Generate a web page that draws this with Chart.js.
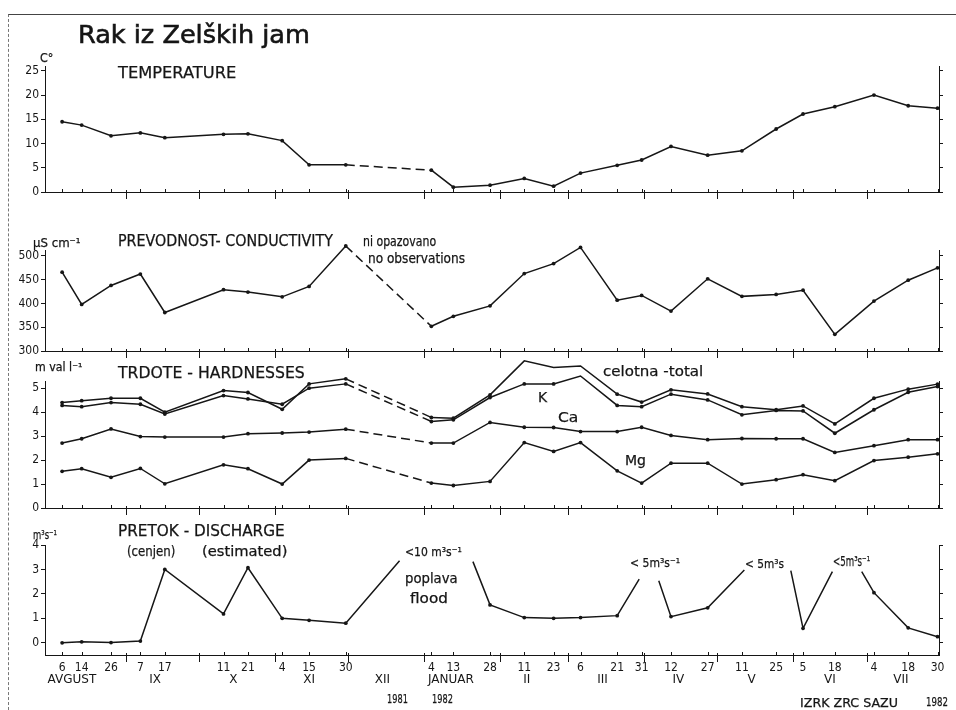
<!DOCTYPE html>
<html>
<head>
<meta charset="utf-8">
<script src="https://cdn.jsdelivr.net/npm/chart.js@4.4.1/dist/chart.umd.min.js"></script>
<style>
html, body { margin: 0; padding: 0; background: #fff; }
#page { position: relative; width: 956px; height: 710px; overflow: hidden; font-family: "DejaVu Sans", sans-serif; color: #151515; }
#page canvas { position: absolute; left: 0; top: 0; }
#frame { position: absolute; left: 8px; top: 14px; width: 948px; height: 700px; border-top: 1px solid #444; border-left: 1px dashed #777; }
.t { position: absolute; white-space: nowrap; line-height: 1; transform-origin: 0 0; -webkit-text-stroke: 0.25px #151515; }
.t.big { -webkit-text-stroke: 0.6px #151515; }
</style>
</head>
<body>
<div id="page">
  <div id="frame"></div>
  <canvas id="cTemp" width="956" height="710"></canvas>
  <canvas id="cCond" width="956" height="710"></canvas>
  <canvas id="cHard" width="956" height="710"></canvas>
  <canvas id="cDisc" width="956" height="710"></canvas>
</div>
<script>
// sampling dates (1981-82)
const dates = ['1981-08-06','1981-08-14','1981-08-26','1981-09-07','1981-09-17','1981-10-11','1981-10-21',
  '1981-11-04','1981-11-15','1981-11-30','1982-01-04','1982-01-13','1982-01-28','1982-02-11','1982-02-23',
  '1982-03-06','1982-03-21','1982-03-31','1982-04-12','1982-04-27','1982-05-11','1982-05-25','1982-06-05',
  '1982-06-18','1982-07-04','1982-07-18','1982-07-30'];

const temperature = [14.5, 13.8, 11.6, 12.2, 11.2, 11.9, 12.0, 10.6, 5.6, 5.6, 4.5, 1.0, 1.4, 2.8, 1.2,
  3.9, 5.5, 6.6, 9.4, 7.6, 8.5, 13.0, 16.1, 17.6, 20.0, 17.8, 17.3];

const conductivity = [466, 398, 438, 462, 381, 429, 424, 414, 436, 521, 352, 373, 395, 463, 484,
  518, 407, 417, 384, 452, 415, 419, 428, 335, 405, 449, 475];

// hardnesses, mval/l
const hardTotal = [4.40, 4.48, 4.58, 4.58, 4.00, 4.90, 4.82, 4.12, 5.18, 5.39, 3.78, 3.75, 4.72, 6.14, 5.86,
  5.93, 4.75, 4.42, 4.93, 4.76, 4.23, 4.10, 4.26, 3.51, 4.58, 4.96, 5.17];
const hardK = [4.28, 4.23, 4.40, 4.33, 3.92, 4.69, 4.55, 4.33, 5.00, 5.18, 3.61, 3.68, 4.61, 5.18, 5.18,
  5.51, 4.28, 4.23, 4.75, 4.51, 3.89, 4.07, 4.05, 3.12, 4.10, 4.83, 5.07];
const hardCa = [2.71, 2.89, 3.30, 2.98, 2.96, 2.96, 3.10, 3.13, 3.17, 3.29, 2.71, 2.71, 3.57, 3.37, 3.36,
  3.19, 3.19, 3.37, 3.03, 2.85, 2.90, 2.89, 2.89, 2.32, 2.60, 2.85, 2.85];
const hardMg = [1.53, 1.64, 1.28, 1.65, 1.01, 1.80, 1.64, 1.00, 2.00, 2.07, 1.04, 0.94, 1.11, 2.73, 2.36,
  2.73, 1.55, 1.04, 1.87, 1.87, 1.00, 1.18, 1.39, 1.14, 1.98, 2.12, 2.26];

// discharge: off-scale peaks are cut (null = gap), cut ends have no marker
const discDates = ['1981-08-06','1981-08-14','1981-08-26','1981-09-07','1981-09-17','1981-10-11','1981-10-21',
  '1981-11-04','1981-11-15','1981-11-30','1981-12-22','1982-01-04','1982-01-21','1982-01-28','1982-02-11',
  '1982-02-23','1982-03-06','1982-03-21','1982-03-30','1982-04-03','1982-04-07','1982-04-12','1982-04-27',
  '1982-05-12','1982-05-25','1982-05-31','1982-06-05','1982-06-17','1982-06-23','1982-06-29','1982-07-04',
  '1982-07-18','1982-07-30'];
const discValues = [0.0, 0.04, 0.01, 0.07, 3.0, 1.18, 3.07, 1.0, 0.92, 0.8, 3.36, null, 3.32, 1.55, 1.03,
  1.0, 1.03, 1.11, 2.6, null, 2.54, 1.07, 1.43, 2.98, null, 2.95, 0.59, 2.91, null, 2.91, 2.05, 0.61, 0.25];

const tempTicks = [0, 5, 10, 15, 20, 25];
const condTicks = [300, 350, 400, 450, 500];
const hardTicks = [0, 1, 2, 3, 4, 5];
const discTicks = [0, 1, 2, 3, 4];

const monthStarts = ['1981-09-01','1981-10-01','1981-11-01','1981-12-01','1982-01-01','1982-02-01',
  '1982-03-01','1982-04-01','1982-05-01','1982-06-01','1982-07-01'];
const monthNames = ['AVGUST','IX','X','XI','XII','JANUAR','II','III','IV','V','VI','VII'];
const monthMid = ['1981-08-10','1981-09-13','1981-10-15','1981-11-15','1981-12-15','1982-01-12',
  '1982-02-12','1982-03-15','1982-04-15','1982-05-15','1982-06-16','1982-07-15'];

const T0 = Date.UTC(1981, 0, 1);
function dayNo(s) {
  const [y, m, d] = s.split('-').map(Number);
  return (Date.UTC(y, m - 1, d) - T0) / 864e5 + 1;
}
const X_MIN = 211, X_MAX = 576.6;
const INK = '#161616';
const TICK_FONT = { family: '"DejaVu Sans Condensed", "DejaVu Sans", sans-serif', size: 12 };

function series(ds, vals) {
  return ds.map((d, i) => ({ x: dayNo(d), y: vals[i] }));
}

const dayToDate = {};
dates.concat(discDates).forEach(d => { dayToDate[dayNo(d)] = d; });
function dateOf(c) {
  const p = c.raw;
  return p ? dayToDate[p.x] : '';
}

function lineSet(data) {
  return {
    data,
    borderColor: INK,
    borderWidth: 1.5,
    pointRadius: c => (dates.includes(dateOf(c)) ? 1.9 : 0),
    pointBackgroundColor: INK,
    pointBorderWidth: 0,
    tension: 0,
    clip: false,
    segment: {
      borderDash: c => (c.p1.parsed.x - c.p0.parsed.x > 30 ? [9, 5] : undefined)
    }
  };
}

// baseline with month and sampling ticks, month names under the last panel
const framePlugin = {
  id: 'frame',
  afterDatasetsDraw(chart, args, opts) {
    const { ctx, chartArea: a } = chart;
    const x = chart.scales.x;
    ctx.save();
    ctx.strokeStyle = INK;
    ctx.lineWidth = 1;
    ctx.beginPath();
    ctx.moveTo(a.left, a.bottom + 0.5);
    ctx.lineTo(a.right + 1, a.bottom + 0.5);
    monthStarts.forEach(d => {
      const px = Math.round(x.getPixelForValue(dayNo(d))) + 0.5;
      ctx.moveTo(px, a.bottom - 2);
      ctx.lineTo(px, a.bottom + 7);
    });
    dates.forEach(d => {
      const px = Math.round(x.getPixelForValue(dayNo(d))) + 0.5;
      ctx.moveTo(px, a.bottom - 3);
      ctx.lineTo(px, a.bottom);
    });
    ctx.stroke();
    if (opts.months) {
      ctx.fillStyle = INK;
      ctx.font = '12px "DejaVu Sans", sans-serif';
      ctx.textAlign = 'center';
      ctx.textBaseline = 'middle';
      monthNames.forEach((m, i) => {
        ctx.fillText(m, x.getPixelForValue(dayNo(monthMid[i])), a.bottom + 25);
      });
    }
    ctx.restore();
  }
};

function panel(id, top, bottom, yMin, yMax, ticks, datasets, withDays) {
  const yBase = {
    min: yMin,
    max: yMax,
    afterBuildTicks: s => { s.ticks = ticks.map(v => ({ value: v })); },
    border: { display: true, color: INK, width: 1 },
    grid: { drawOnChartArea: false, color: INK, tickLength: 4 }
  };
  const xAxis = {
    type: 'linear',
    min: X_MIN,
    max: X_MAX,
    display: withDays,
    grid: { display: false, drawTicks: false },
    border: { display: false }
  };
  if (withDays) {
    xAxis.afterBuildTicks = s => { s.ticks = dates.map(d => ({ value: dayNo(d) })); };
    xAxis.afterFit = s => { s.height = 20; };
    xAxis.ticks = {
      autoSkip: false, maxRotation: 0, padding: 6, color: INK, font: TICK_FONT,
      callback: v => String(parseInt(dayToDate[v].slice(8), 10))
    };
  }
  return new Chart(document.getElementById(id), {
    type: 'line',
    data: { datasets },
    options: {
      responsive: false,
      animation: false,
      events: [],
      layout: { padding: { top, bottom: 710 - bottom - (withDays ? 20 : 0), left: 0, right: 0 } },
      plugins: { legend: { display: false }, tooltip: { enabled: false }, frame: { months: withDays } },
      scales: {
        x: xAxis,
        y: Object.assign({}, yBase, {
          position: 'left',
          afterFit: s => { s.width = 45; },
          ticks: { color: INK, font: TICK_FONT, padding: 2 }
        }),
        y2: Object.assign({}, yBase, {
          position: 'right',
          afterFit: s => { s.width = 17; },
          ticks: { display: false }
        })
      }
    },
    plugins: [framePlugin]
  });
}

panel('cTemp', 66, 192, 0, 26, tempTicks, [lineSet(series(dates, temperature))], false);
panel('cCond', 250, 351, 300, 512.6, condTicks, [lineSet(series(dates, conductivity))], false);
panel('cHard', 381, 508, 0, 5.3, hardTicks, [
  lineSet(series(dates, hardTotal)),
  lineSet(series(dates, hardK)),
  lineSet(series(dates, hardCa)),
  lineSet(series(dates, hardMg))
], false);
panel('cDisc', 545, 655, -0.5, 4, discTicks, [lineSet(series(discDates, discValues))], true);

// texts: [text, left, baseline, font size, width]
const texts = [
  ['Rak iz Zelških jam', 78, 43.5, 25, 232, 'big'],
  ['C°', 40, 62, 12, 13],
  ['TEMPERATURE', 118, 78.3, 16, 118],
  ['μS cm⁻¹', 33, 247, 12, 48],
  ['PREVODNOST- CONDUCTIVITY', 118, 246.5, 15, 215],
  ['ni opazovano', 363, 246.5, 13.5, 73],
  ['no observations', 368, 263, 13.5, 97],
  ['m val l⁻¹', 35, 372, 11.5, 47],
  ['TRDOTE - HARDNESSES', 118, 379, 15.5, 187],
  ['celotna -total', 603, 376, 14, 100],
  ['K', 538, 402, 14, 0],
  ['Ca', 558, 422, 14, 20],
  ['Mg', 625, 465, 14, 21],
  ['m³s⁻¹', 33, 539, 12, 24],
  ['PRETOK - DISCHARGE', 118, 537, 15, 167],
  ['(cenjen)', 127, 556, 14, 48],
  ['(estimated)', 202, 556, 14, 85],
  ['<10 m³s⁻¹', 405, 557, 12.5, 57],
  ['poplava', 405, 583, 14, 53],
  ['flood', 410, 603, 14, 38],
  ['< 5m³s⁻¹', 630, 567, 13, 50],
  ['< 5m³s', 745, 568, 13, 39],
  ['<5m³s⁻¹', 833, 566, 14, 37],
  ['1981', 387, 704, 12.5, 21],
  ['1982', 432, 704, 12.5, 21],
  ['IZRK ZRC SAZU', 800, 707, 12, 98],
  ['1982', 926, 707, 12.5, 22]
];
const page = document.getElementById('page');
texts.forEach(([s, x, base, size, w, cls]) => {
  const el = document.createElement('div');
  el.className = cls ? 't ' + cls : 't';
  el.textContent = s;
  el.style.fontSize = size + 'px';
  el.style.left = x + 'px';
  el.style.top = (base - 0.846 * size) + 'px';
  page.appendChild(el);
  if (w) el.style.transform = 'scaleX(' + (w / el.offsetWidth).toFixed(3) + ')';
});
</script>
</body>
</html>
